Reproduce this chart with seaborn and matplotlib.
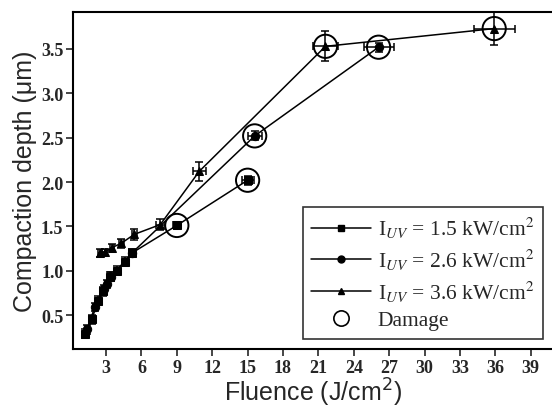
import numpy as np
import pandas as pd
import matplotlib.pyplot as plt
import seaborn as sns
from matplotlib.lines import Line2D

# values
x_15 = [1.25, 1.8, 2.3, 2.75, 3.3, 3.95, 4.6, 5.2, 9.0, 15.0]
y_15 = [0.29, 0.45, 0.66, 0.77, 0.93, 1.0, 1.1, 1.2, 1.51, 2.02]
xe_15 = [0.15, 0.15, 0.15, 0.15, 0.15, 0.2, 0.2, 0.2, 0.35, 0.5]
ye_15 = [0.05, 0.05, 0.05, 0.05, 0.05, 0.05, 0.05, 0.05, 0.04, 0.05]

x_26 = [1.4, 2.05, 2.8, 3.1, 3.4, 5.2, 15.6, 26.1]
y_26 = [0.34, 0.59, 0.79, 0.85, 0.93, 1.2, 2.52, 3.52]
xe_26 = [0.15, 0.15, 0.15, 0.15, 0.15, 0.2, 0.6, 1.27]
ye_26 = [0.05, 0.05, 0.05, 0.05, 0.05, 0.05, 0.05, 0.05]

x_36 = [2.5, 2.9, 3.5, 4.3, 5.4, 7.6, 10.9, 21.6, 35.9]
y_36 = [1.2, 1.21, 1.26, 1.31, 1.41, 1.52, 2.12, 3.53, 3.73]
xe_36 = [0.2, 0.2, 0.2, 0.2, 0.2, 0.4, 0.55, 1.05, 1.75]
ye_36 = [0.04, 0.04, 0.04, 0.05, 0.06, 0.06, 0.11, 0.17, 0.19]

damage_x = [9.0, 15.0, 15.6, 26.1, 21.6, 35.9]
damage_y = [1.51, 2.02, 2.52, 3.52, 3.53, 3.73]

sns.set_style('ticks')
plt.rcParams['font.family'] = ['Liberation Serif', 'DejaVu Serif']
plt.rcParams['mathtext.fontset'] = 'stix'

fig = plt.figure(figsize=(5.52, 4.10), dpi=100)
ax = fig.add_axes([73 / 552, 1 - 350 / 410, 1 - 73 / 552, 337 / 410])

series = [
    (x_15, y_15, xe_15, ye_15, 's', '1.5'),
    (x_26, y_26, xe_26, ye_26, 'o', '2.6'),
    (x_36, y_36, xe_36, ye_36, '^', '3.6'),
]

for xs, ys, xe, ye, mk, lab in series:
    df = pd.DataFrame({'x': xs, 'y': ys})
    sns.lineplot(data=df, x='x', y='y', ax=ax, color='black', lw=1.1,
                 marker=mk, markersize=6, markeredgecolor='black', sort=False)
    ax.errorbar(xs, ys, xerr=xe, yerr=ye, fmt='none', ecolor='black',
                elinewidth=1.1, capsize=3, capthick=1.1)

# damage points get a big open circle
sns.scatterplot(x=damage_x, y=damage_y, ax=ax, s=280, facecolor='none',
                edgecolor='black', linewidth=1.4, marker='o')

ax.set_xlim(0.2, 40.8)
ax.set_ylim(0.117, 3.917)
ax.set_xticks(np.arange(3, 40, 3))
ax.set_yticks([0.5, 1.0, 1.5, 2.0, 2.5, 3.0, 3.5])
ax.set_yticklabels(['0.5', '1.0', '1.5', '2.0', '2.5', '3.0', '3.5'])
ax.tick_params(direction='out', length=5, width=1.2, labelsize=13, pad=2)
for t in ax.get_xticklabels() + ax.get_yticklabels():
    t.set_fontweight('bold')

ax.spines['right'].set_visible(False)
for s in ['left', 'bottom', 'top']:
    ax.spines[s].set_linewidth(1.5)
    ax.spines[s].set_color('black')

xl = ax.set_xlabel('Fluence (J/cm$^2$)', family='Liberation Sans', fontsize=18, labelpad=0)
xl.set_math_fontfamily('dejavusans')
ax.set_ylabel('Compaction depth (\u03bcm)', family='Liberation Sans', fontsize=18, labelpad=3)

handles = [
    Line2D([], [], color='black', lw=1.1, marker='s', markersize=5),
    Line2D([], [], color='black', lw=1.1, marker='o', markersize=5),
    Line2D([], [], color='black', lw=1.1, marker='^', markersize=5),
    Line2D([], [], color='black', lw=0, marker='o', markersize=11,
           markerfacecolor='none', markeredgewidth=1.2),
]
labels = [r'I$_{UV}$ = 1.5 kW/cm$^2$', r'I$_{UV}$ = 2.6 kW/cm$^2$',
          r'I$_{UV}$ = 3.6 kW/cm$^2$', 'Damage']
leg = ax.legend(handles, labels, loc='lower right', bbox_to_anchor=(0.981, 0.03),
                fontsize=15.5, frameon=True, fancybox=False, edgecolor='black',
                handlelength=2.8, handletextpad=0.3, borderpad=0.4,
                labelspacing=0.3, borderaxespad=0)
leg.get_frame().set_linewidth(1.2)

fig.savefig('out.png', dpi=100)
